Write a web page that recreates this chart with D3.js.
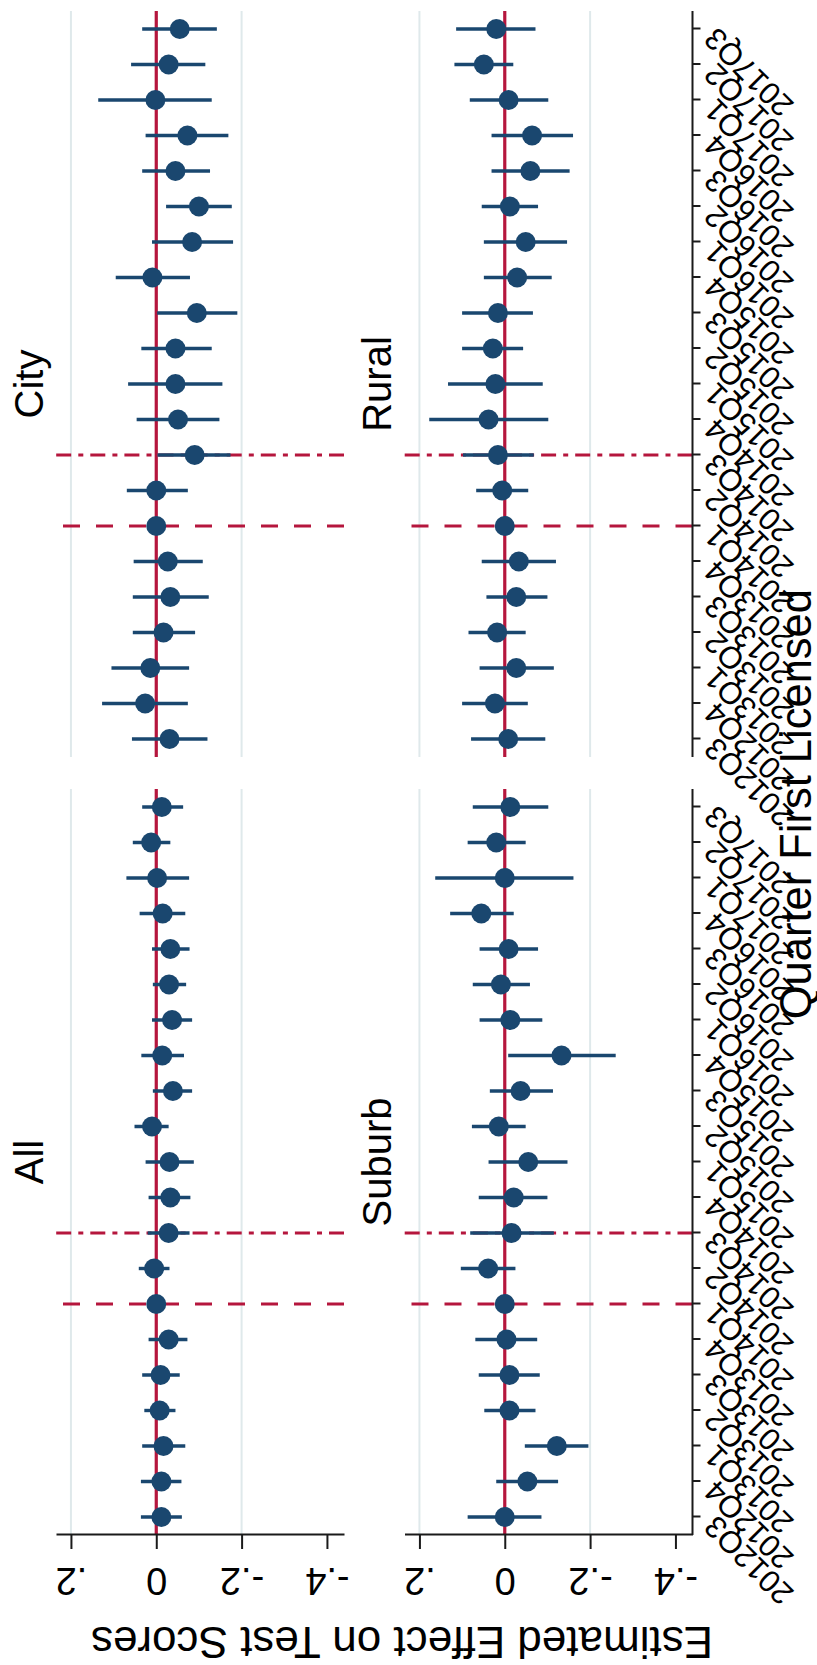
<!DOCTYPE html>
<html>
<head>
<meta charset="utf-8">
<script src="https://cdn.jsdelivr.net/npm/d3@7"></script>
<style>
  html, body { margin: 0; padding: 0; background: #fff; }
  svg { display: block; }
  text { font-family: "Liberation Sans", Arial, Helvetica, sans-serif; fill: #000; }
</style>
</head>
<body>
<svg id="chart" width="817" height="1665"></svg>
<script>
// ---------------- DATA ----------------
const quarters = ["2012Q3","2012Q4","2013Q1","2013Q2","2013Q3","2013Q4","2014Q1","2014Q2","2014Q3","2014Q4",
                  "2015Q1","2015Q2","2015Q3","2015Q4","2016Q1","2016Q2","2016Q3","2016Q4","2017Q1","2017Q2","2017Q3"];

const allEst = [-0.012,-0.012,-0.017,-0.008,-0.010,-0.029,0,0.005,-0.029,-0.033,-0.031,0.010,-0.039,-0.014,-0.037,-0.030,-0.033,-0.015,-0.002,0.012,-0.013];
const allLo  = [-0.060,-0.059,-0.068,-0.045,-0.055,-0.073,0,-0.031,-0.078,-0.080,-0.088,-0.029,-0.084,-0.065,-0.084,-0.070,-0.078,-0.068,-0.077,-0.033,-0.063];
const allHi  = [0.036,0.036,0.033,0.028,0.033,0.018,0,0.041,0.020,0.018,0.025,0.051,0.008,0.035,0.010,0.008,0.010,0.039,0.070,0.055,0.033];

const cityEst = [-0.031,0.026,0.014,-0.017,-0.033,-0.027,0,0.000,-0.090,-0.051,-0.045,-0.045,-0.095,0.009,-0.084,-0.100,-0.045,-0.073,0.002,-0.029,-0.055];
const cityLo  = [-0.120,-0.074,-0.077,-0.091,-0.123,-0.109,0,-0.074,-0.174,-0.148,-0.155,-0.130,-0.190,-0.079,-0.180,-0.177,-0.126,-0.169,-0.130,-0.115,-0.142];
const cityHi  = [0.057,0.127,0.105,0.055,0.055,0.053,0,0.069,-0.003,0.046,0.066,0.035,-0.002,0.095,0.010,-0.023,0.033,0.025,0.136,0.059,0.033];

const suburbEst = [0,-0.053,-0.122,-0.011,-0.011,-0.004,0,0.039,-0.016,-0.021,-0.055,0.014,-0.037,-0.133,-0.013,0.009,-0.009,0.055,0,0.020,-0.013];
const suburbLo  = [-0.086,-0.125,-0.196,-0.072,-0.082,-0.076,0,-0.025,-0.115,-0.100,-0.147,-0.049,-0.113,-0.260,-0.088,-0.059,-0.078,-0.021,-0.161,-0.049,-0.102];
const suburbHi  = [0.087,0.020,-0.047,0.048,0.061,0.069,0,0.103,0.081,0.061,0.038,0.077,0.035,-0.008,0.059,0.075,0.059,0.128,0.163,0.087,0.075];

const ruralEst = [-0.008,0.023,-0.027,0.018,-0.027,-0.033,0,0.006,0.016,0.038,0.022,0.028,0.016,-0.029,-0.049,-0.012,-0.060,-0.064,-0.009,0.049,0.020];
const ruralLo  = [-0.095,-0.054,-0.115,-0.049,-0.100,-0.120,0,-0.055,-0.068,-0.102,-0.089,-0.043,-0.066,-0.110,-0.146,-0.078,-0.152,-0.160,-0.102,-0.020,-0.072];
const ruralHi  = [0.079,0.100,0.059,0.085,0.043,0.054,0,0.067,0.098,0.177,0.133,0.100,0.100,0.049,0.049,0.054,0.031,0.031,0.082,0.118,0.114];

const yTickValues = [-0.4, -0.2, 0, 0.2];
const yTickLabels = ["-.4", "-.2", "0", ".2"];
const gridValues = [-0.2, 0.2];
const yDomain = [-0.44, 0.235];
const dashedQuarter = "2014Q1";
const dashDotQuarter = "2014Q3";
const yTitle = "Estimated Effect on Test Scores";
const xTitle = "Quarter First Licensed";

// ---------------- DRAW ----------------
// The chart is drawn in an unrotated 1665 x 817 frame and then turned 90° counter-clockwise.
const W = 1665;
const navy = "#1a476f", red = "#b5163d", grid = "#dfe9eb", axisCol = "#1a1a1a";

const svg = d3.select("#chart");
svg.append("rect").attr("width", 817).attr("height", 1665).attr("fill", "#fff");
const g = svg.append("g").attr("transform", `translate(0,${W}) rotate(-90)`);

const colX = [130, 908], colW = 746;
const rowY = [56, 404.5], rowH = 288;

const panels = [
  {name: "All",    est: allEst,    lo: allLo,    hi: allHi,    row: 0, col: 0},
  {name: "City",   est: cityEst,   lo: cityLo,   hi: cityHi,   row: 0, col: 1},
  {name: "Suburb", est: suburbEst, lo: suburbLo, hi: suburbHi, row: 1, col: 0},
  {name: "Rural",  est: ruralEst,  lo: ruralLo,  hi: ruralHi,  row: 1, col: 1}
];

panels.forEach(p => {
  const x0 = colX[p.col], y0 = rowY[p.row];
  const x = d3.scalePoint().domain(quarters).range([x0 + 18, x0 + colW - 18]);
  const y = d3.scaleLinear().domain(yDomain).range([y0 + rowH, y0]);
  const pg = g.append("g");

  // gridlines
  pg.selectAll("line.grid").data(gridValues).join("line").attr("class", "grid")
    .attr("x1", x0).attr("x2", x0 + colW)
    .attr("y1", d => y(d)).attr("y2", d => y(d))
    .attr("stroke", grid).attr("stroke-width", 2);

  // vertical reference lines (drawn bottom to top)
  pg.append("line")
    .attr("x1", x(dashedQuarter)).attr("x2", x(dashedQuarter))
    .attr("y1", y0 + rowH).attr("y2", y0)
    .attr("stroke", red).attr("stroke-width", 3.2).attr("stroke-dasharray", "17,16");
  pg.append("line")
    .attr("x1", x(dashDotQuarter)).attr("x2", x(dashDotQuarter))
    .attr("y1", y0 + rowH).attr("y2", y0)
    .attr("stroke", red).attr("stroke-width", 3.2).attr("stroke-dasharray", "15,7,5,7.1");

  // zero line
  pg.append("line")
    .attr("x1", x0).attr("x2", x0 + colW)
    .attr("y1", y(0)).attr("y2", y(0))
    .attr("stroke", red).attr("stroke-width", 3.2);

  const idx = d3.range(quarters.length);
  // confidence intervals
  pg.selectAll("line.ci").data(idx.filter(i => p.lo[i] !== p.hi[i])).join("line").attr("class", "ci")
    .attr("x1", i => x(quarters[i])).attr("x2", i => x(quarters[i]))
    .attr("y1", i => y(p.lo[i])).attr("y2", i => y(p.hi[i]))
    .attr("stroke", navy).attr("stroke-width", 3.4);
  // point estimates
  pg.selectAll("circle.pt").data(idx).join("circle").attr("class", "pt")
    .attr("cx", i => x(quarters[i])).attr("cy", i => y(p.est[i]))
    .attr("r", 10).attr("fill", navy);

  // y axis (left column only)
  if (p.col === 0) {
    const ya = pg.append("g").attr("transform", `translate(${x0},0)`)
      .call(d3.axisLeft(y).tickValues(yTickValues)
        .tickFormat(d => yTickLabels[yTickValues.indexOf(d)])
        .tickSize(14).tickSizeOuter(0));
    ya.selectAll("path,line").attr("stroke", axisCol).attr("stroke-width", 2);
    ya.selectAll("text")
      .attr("x", 0).attr("y", 0).attr("dy", 0)
      .attr("text-anchor", "middle")
      .attr("transform", "translate(-33,0) rotate(-90)")
      .style("font-size", "38px").attr("fill", "#000");
  }

  // x axis (bottom row only)
  if (p.row === 1) {
    const xa = pg.append("g").attr("transform", `translate(0,${y0 + rowH})`)
      .call(d3.axisBottom(x).tickSize(8).tickSizeOuter(0));
    xa.select(".domain").remove();
    xa.append("line").attr("x1", x0).attr("x2", x0 + colW).attr("y1", 0).attr("y2", 0)
      .attr("stroke", axisCol).attr("stroke-width", 2);
    xa.selectAll(".tick line").attr("stroke", axisCol).attr("stroke-width", 2);
    xa.selectAll("text")
      .attr("x", 0).attr("y", 0).attr("dy", "0.35em")
      .attr("text-anchor", "end")
      .attr("transform", "translate(-5,17) rotate(-45)")
      .style("font-size", "31px").attr("fill", "#000");
  }

  // panel title
  pg.append("text")
    .attr("x", x0 + colW / 2).attr("y", y0 - 13.5)
    .attr("text-anchor", "middle")
    .style("font-size", "40px")
    .text(p.name);
});

// axis titles
g.append("text")
  .attr("transform", "translate(38,713) rotate(-90)")
  .attr("text-anchor", "start")
  .style("font-size", "44px")
  .text(yTitle);

g.append("text")
  .attr("x", 1076).attr("y", 811)
  .attr("text-anchor", "end")
  .style("font-size", "43.5px")
  .text(xTitle);
</script>
</body>
</html>
